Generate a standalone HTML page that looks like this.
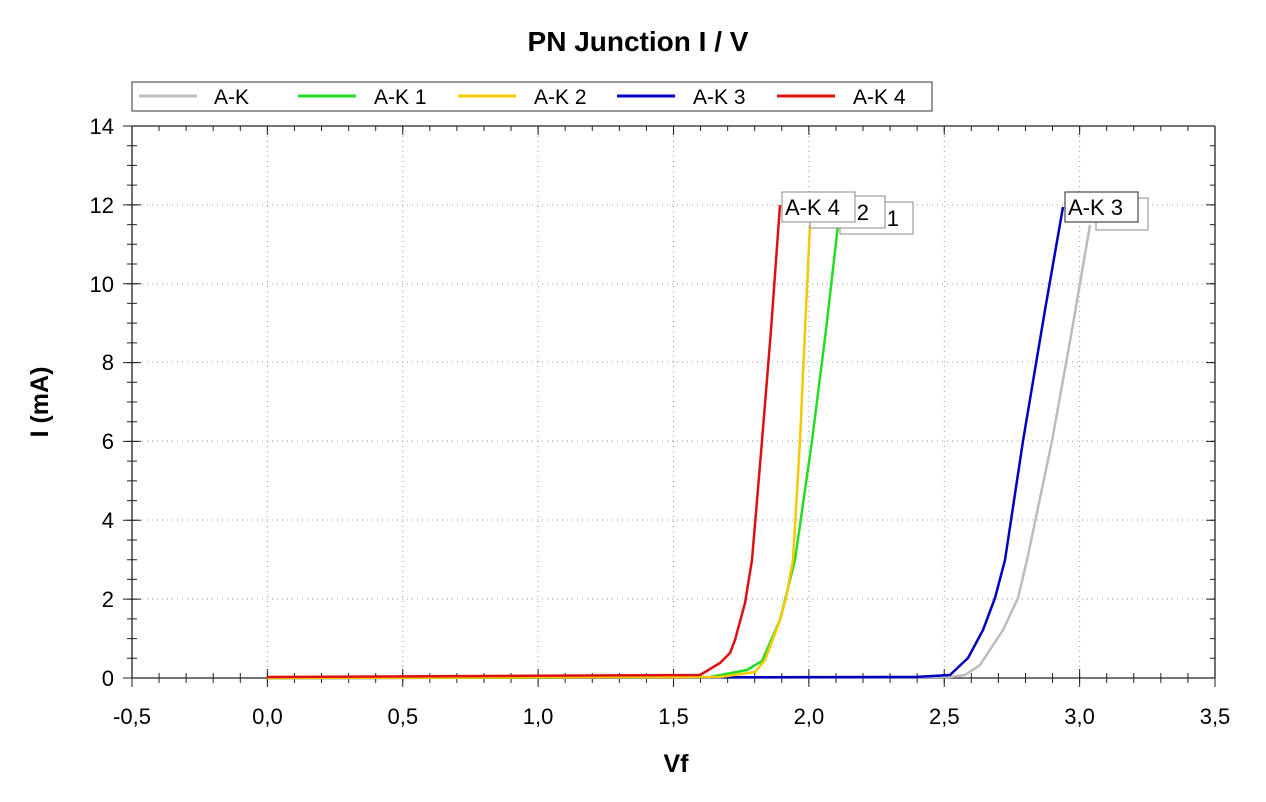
<!DOCTYPE html>
<html><head><meta charset="utf-8"><style>body{margin:0;background:#fff}svg{display:block;font-family:"Liberation Sans",Arial,sans-serif}</style></head>
<body>
<svg width="1266" height="802" viewBox="0 0 1266 802" xmlns="http://www.w3.org/2000/svg">
<rect width="1266" height="802" fill="#fff"/>
<text x="638" y="51" font-size="28" font-weight="bold" text-anchor="middle">PN Junction I / V</text>
<!-- legend -->
<rect x="132" y="82" width="800" height="29" fill="#fff" stroke="#333" stroke-width="1"/>
<g stroke-width="3">
<line x1="139" y1="96" x2="197" y2="96" stroke="#bbb"/>
<line x1="298" y1="96" x2="356" y2="96" stroke="#22dd22"/>
<line x1="458" y1="96" x2="516" y2="96" stroke="#f5c800"/>
<line x1="617" y1="96" x2="675" y2="96" stroke="#0000c0"/>
<line x1="777" y1="96" x2="835" y2="96" stroke="#dd1111"/>
</g>
<g font-size="21">
<text x="214" y="104">A-K</text><text x="374" y="104">A-K 1</text><text x="534" y="104">A-K 2</text><text x="693" y="104">A-K 3</text><text x="853" y="104">A-K 4</text>
</g>
<!-- grid -->
<g stroke="#999" stroke-width="1" stroke-dasharray="1,4">
<line x1="267.4" y1="126" x2="267.4" y2="678"/><line x1="402.8" y1="126" x2="402.8" y2="678"/><line x1="538.1" y1="126" x2="538.1" y2="678"/><line x1="673.5" y1="126" x2="673.5" y2="678"/><line x1="808.9" y1="126" x2="808.9" y2="678"/><line x1="944.3" y1="126" x2="944.3" y2="678"/><line x1="1079.6" y1="126" x2="1079.6" y2="678"/>
<line x1="132" y1="205" x2="1215" y2="205"/><line x1="132" y1="284" x2="1215" y2="284"/><line x1="132" y1="362" x2="1215" y2="362"/><line x1="132" y1="441" x2="1215" y2="441"/><line x1="132" y1="520" x2="1215" y2="520"/><line x1="132" y1="599" x2="1215" y2="599"/>
</g>
<!-- axes -->
<g stroke="#222" stroke-width="1.3" fill="none">
<line x1="132" y1="126" x2="1215" y2="126"/>
<line x1="132" y1="126" x2="132" y2="678"/>
<line x1="1215" y1="126" x2="1215" y2="678"/>
<line x1="132" y1="678" x2="1215" y2="678"/>
</g>
<!-- ticks via dasharray -->
<g stroke="#222" fill="none">
<line x1="131.5" y1="678" x2="1216" y2="678" stroke-width="10" stroke-dasharray="1,26.075"/>
<line x1="131.5" y1="678" x2="1216" y2="678" stroke-width="18" stroke-dasharray="1,134.375"/>
<line x1="131.5" y1="128.5" x2="1216" y2="128.5" stroke-width="5" stroke-dasharray="1,26.075"/>
<line x1="131.5" y1="130.5" x2="1216" y2="130.5" stroke-width="9" stroke-dasharray="1,134.375"/>
<line x1="132" y1="678.5" x2="132" y2="125" stroke-width="10" stroke-dasharray="1,18.714"/>
<line x1="132" y1="678.5" x2="132" y2="125" stroke-width="18" stroke-dasharray="1,77.857"/>
<line x1="1212.5" y1="678.5" x2="1212.5" y2="125" stroke-width="5" stroke-dasharray="1,18.714"/>
<line x1="1210.5" y1="678.5" x2="1210.5" y2="125" stroke-width="9" stroke-dasharray="1,77.857"/>
</g>
<g font-size="22" text-anchor="middle">
<text x="132" y="724">-0,5</text><text x="267.4" y="724">0,0</text><text x="402.8" y="724">0,5</text><text x="538.1" y="724">1,0</text><text x="673.5" y="724">1,5</text><text x="808.9" y="724">2,0</text><text x="944.3" y="724">2,5</text><text x="1079.6" y="724">3,0</text><text x="1215" y="724">3,5</text>
</g>
<g font-size="22" text-anchor="end">
<text x="114" y="686">0</text><text x="114" y="607">2</text><text x="114" y="528">4</text><text x="114" y="449">6</text><text x="114" y="370">8</text><text x="114" y="292">10</text><text x="114" y="213">12</text><text x="114" y="134">14</text>
</g>
<text x="676" y="772" font-size="25" font-weight="bold" text-anchor="middle">Vf</text>
<text transform="translate(48,402) rotate(-90)" font-size="25" font-weight="bold" text-anchor="middle">I (mA)</text>
<!-- curves -->
<g fill="none" stroke-width="2.5" stroke-linejoin="round">
<polyline stroke="#bbb" points="267,678 950,677 965,675 980,665 1003,630 1018,598 1027,560 1052,441 1072,330 1090,225"/>
<polyline stroke="#0000c0" points="267,678 915,677 950,675 968,658 983,630 995,598 1005,560 1023,441 1045,310 1063,207"/>
<polyline stroke="#22dd22" points="267,678 710,677 747,670 762,661 780,620 785,600 795,560 812,441 826,330 838,225"/>
<polyline stroke="#f5c800" points="267,678 720,677 755,672 765,660 780,620 786,598 793,560 800,441 805,330 810,225"/>
<polyline stroke="#dd1111" points="267,677 700,675 720,663 730,653 735,640 745,603 752,560 762,441 771,330 780,205"/>
</g>
<!-- labels -->
<g font-size="22">
<rect x="840" y="202" width="73" height="32" fill="#fff" stroke="#888"/><text x="844" y="226">A-K 1</text>
<rect x="810" y="196" width="75" height="32" fill="#fff" stroke="#888"/><text x="814" y="220">A-K 2</text>
<rect x="782" y="192" width="73" height="30" fill="#fff" stroke="#888"/><text x="785" y="215">A-K 4</text>
<rect x="1096" y="198" width="52" height="32" fill="#fff" stroke="#888"/><text x="1099" y="222">A-K</text>
<rect x="1065" y="192" width="73" height="30" fill="#fff" stroke="#222"/><text x="1068" y="215">A-K 3</text>
</g>
</svg>
</body></html>
